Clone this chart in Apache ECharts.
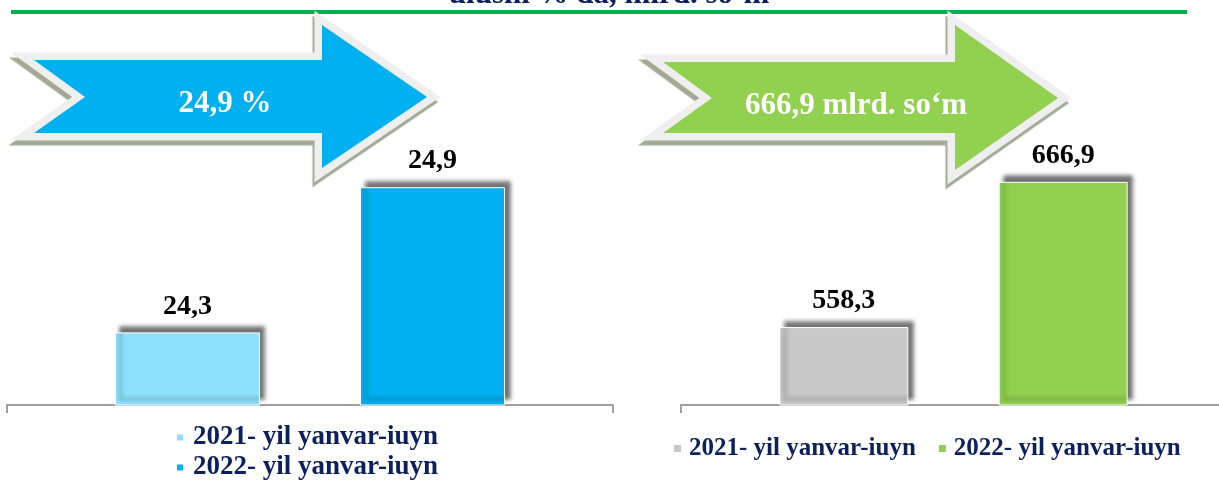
<!DOCTYPE html>
<html>
<head>
<meta charset="utf-8">
<script src="https://cdn.jsdelivr.net/npm/echarts@6/dist/echarts.min.js"></script>
<style>
  html, body { margin: 0; padding: 0; background: #fff; }
  #chart { width: 1219px; height: 482px; }
</style>
</head>
<body>
<div id="chart"></div>
<script>
// data
const categories = ['yanvar-iuyn']
const legendNames = ['2021- yil yanvar-iuyn', '2022- yil yanvar-iuyn']
const shareValues = [24.3, 24.9]      // % da
const amountValues = [558.3, 666.9]   // mlrd. so'm
const arrowTexts = ['24,9 %', '666,9 mlrd. so‘m']
const titleText = 'ulushi % da, mlrd. so‘m'

const shareColors = ['#8ee0fd', '#00b0f0']
const amountColors = ['#c8c8c8', '#92d050']

const serif = '"Liberation Serif", "Times New Roman", serif'
const navy = '#0c1f5e'

const fmt = v => v.toFixed(1).replace('.', ',')

const chart = echarts.init(document.getElementById('chart'))

function barSeries(name, idx, value, color, width, gap) {
  return {
    name: name,
    type: 'bar',
    xAxisIndex: idx,
    yAxisIndex: idx,
    barWidth: width,
    barGap: gap,
    data: [value],
    itemStyle: {
      color: color,
      borderColor: '#fff',
      borderWidth: 1,
      shadowColor: 'rgba(0,0,0,0.55)',
      shadowBlur: 4,
      shadowOffsetX: 5,
      shadowOffsetY: -6
    },
    label: {
      show: true,
      position: 'top',
      distance: 12,
      formatter: p => fmt(p.value),
      fontFamily: serif,
      fontWeight: 'bold',
      fontSize: 28,
      color: '#000'
    },
    emphasis: { disabled: true },
    animation: false
  }
}

// arrow shape: outline + fill + text
function arrow(points, color, text, tx, ty) {
  return {
    type: 'group',
    children: [
      {
        type: 'polygon',
        shape: { points: points },
        style: {
          fill: '#efefef', stroke: '#efefef', lineWidth: 15, lineJoin: 'miter',
          shadowColor: '#a3aa94', shadowOffsetX: -2, shadowOffsetY: 5, shadowBlur: 1
        }
      },
      {
        type: 'polygon',
        shape: { points: points },
        style: { fill: color }
      },
      {
        type: 'text',
        x: tx,
        y: ty,
        style: {
          text: text,
          font: 'bold 31px ' + serif,
          fill: '#fff',
          align: 'center',
          verticalAlign: 'middle'
        }
      }
    ]
  }
}

const leftArrow = [[34, 60], [85, 97], [34, 133], [322, 133], [322, 168], [427, 97], [322, 25], [322, 60]]
const rightArrow = [[663, 62], [712, 98], [663, 133], [955, 133], [955, 170], [1058, 98], [955, 25], [955, 62]]

const axisLine = { lineStyle: { color: '#a0a0a0', width: 2 } }
const axisTick = { show: true, length: 8, lineStyle: { color: '#a0a0a0', width: 2 } }

chart.setOption({
  backgroundColor: '#fff',
  grid: [
    { left: 7, width: 606, top: 42, bottom: 77 },
    { left: 681, right: -7, top: 44, bottom: 77, outerBoundsMode: 'none' }
  ],
  xAxis: [
    { type: 'category', gridIndex: 0, data: categories, axisLine: axisLine, axisTick: axisTick, axisLabel: { show: false } },
    { type: 'category', gridIndex: 1, data: categories, axisLine: axisLine, axisTick: axisTick, axisLabel: { show: false } }
  ],
  yAxis: [
    { type: 'value', gridIndex: 0, min: 24, max: 25.5, show: false, splitLine: { show: false } },
    { type: 'value', gridIndex: 1, min: 500, max: 770, show: false, splitLine: { show: false } }
  ],
  legend: [
    {
      data: ['a0', 'a1'],
      orient: 'vertical',
      left: 175,
      top: 424,
      padding: 0,
      itemGap: 3,
      itemWidth: 8,
      itemHeight: 8,
      icon: 'rect',
      selectedMode: false,
      formatter: n => legendNames[+n.slice(1)],
      textStyle: { fontFamily: serif, fontWeight: 'bold', fontSize: 27, color: navy, padding: [0, 0, 0, 4] }
    },
    {
      data: ['b0', 'b1'],
      orient: 'horizontal',
      left: 672,
      top: 436,
      padding: 0,
      itemGap: 21,
      itemWidth: 9,
      itemHeight: 9,
      icon: 'rect',
      selectedMode: false,
      formatter: n => legendNames[+n.slice(1)],
      textStyle: { fontFamily: serif, fontWeight: 'bold', fontSize: 25, color: navy, padding: [0, 0, 0, 2] }
    }
  ],
  series: [
    barSeries('a0', 0, shareValues[0], shareColors[0], 145, '69%'),
    barSeries('a1', 0, shareValues[1], shareColors[1], 145, '69%'),
    barSeries('b0', 1, amountValues[0], amountColors[0], 129, '70%'),
    barSeries('b1', 1, amountValues[1], amountColors[1], 129, '70%')
  ],
  graphic: [
    {
      type: 'line',
      shape: { x1: 11, y1: 12, x2: 1187, y2: 12 },
      style: { stroke: '#00b050', lineWidth: 4 }
    },
    {
      type: 'text',
      x: 609,
      y: -5,
      style: {
        text: titleText,
        font: 'bold 31px ' + serif,
        fill: navy,
        align: 'center',
        verticalAlign: 'middle'
      }
    },
    arrow(leftArrow, '#00b0f0', arrowTexts[0], 225, 104),
    arrow(rightArrow, '#92d050', arrowTexts[1], 856, 106)
  ]
})

window.onresize = function () {
  chart.resize()
}
</script>
</body>
</html>
